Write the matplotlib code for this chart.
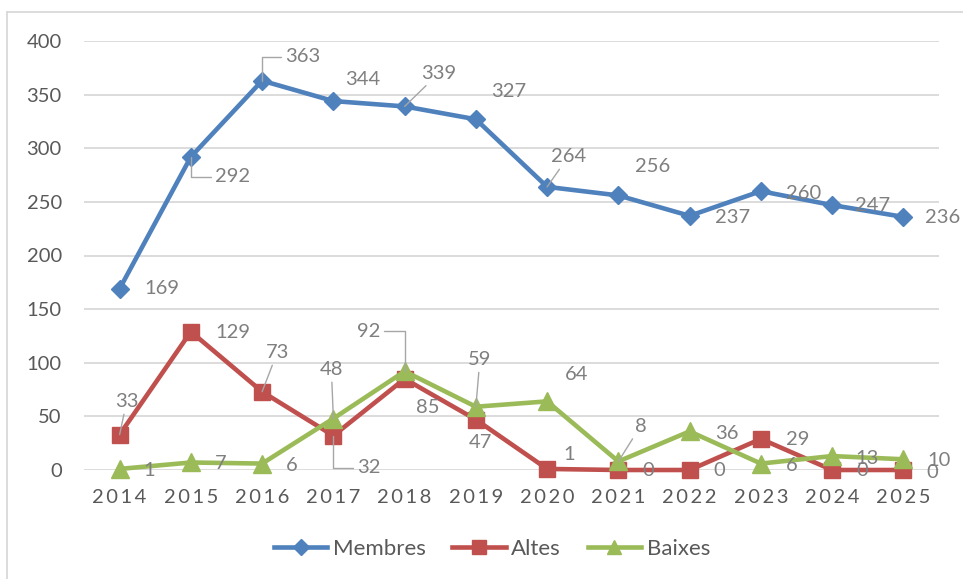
import matplotlib.pyplot as plt

plt.rcParams['font.family'] = ['Lato', 'DejaVu Sans']

years = ['2014', '2015', '2016', '2017', '2018', '2019', '2020', '2021', '2022', '2023', '2024', '2025']
membres = [169, 292, 363, 344, 339, 327, 264, 256, 237, 260, 247, 236]
altes = [33, 129, 73, 32, 85, 47, 1, 0, 0, 29, 0, 0]
baixes = [1, 7, 6, 48, 92, 59, 64, 8, 36, 6, 13, 10]

# label offsets in pixels (dx right, dy down) and leader style: None, 'line', 'elbow'
off_m = [(42, 0), (42, 20), (41, -24), (29, -22), (34, -33), (33, -28),
         (21, -30), (34, -29), (43, 2), (43, 2), (40, 0), (39, 1)]
lead_m = [None, 'elbow', 'elbow', None, 'line', None, 'line', None, None, None, None, None]
off_a = [(7, -33), (42, 1), (15, -39), (36, 32), (23, 29), (5, 23),
         (22, -14), (30, 1), (30, 1), (37, 1), (30, 1), (29, 2)]
lead_a = ['line', None, 'line', 'elbow', None, None, None, None, None, None, None, None]
off_b = [(30, 2), (30, 1), (30, 2), (-2, -49), (-36, -40), (4, -47),
         (29, -27), (22, -35), (37, 2), (31, 2), (35, 2), (36, 1)]
lead_b = [None, None, None, 'line', 'elbow', 'line', None, 'line', None, None, None, None]

fig = plt.figure(figsize=(9.63, 5.79), dpi=100)
ax = fig.add_axes([84 / 963, 109 / 579, 855 / 963, 429 / 579])

x = list(range(len(years)))
series = [
    (membres, 'Membres', '#4F81BD', 'D', 9.5, off_m, lead_m),
    (altes, 'Altes', '#C0504D', 's', 12, off_a, lead_a),
    (baixes, 'Baixes', '#9BBB59', '^', 12.5, off_b, lead_b),
]
for vals, name, col, mk, ms, offs, leads in series:
    ax.plot(x, vals, color=col, lw=3.3, marker=mk, ms=ms, label=name,
            clip_on=False, zorder=3)

for vals, name, col, mk, ms, offs, leads in series:
    for i, v in enumerate(vals):
        dx, dy = offs[i]
        ap = None
        if leads[i] == 'line':
            ap = dict(arrowstyle='-', color='#A6A6A6', lw=1, shrinkA=1, shrinkB=0)
        elif leads[i] == 'elbow':
            ap = dict(arrowstyle='-', color='#A6A6A6', lw=1, shrinkA=1, shrinkB=0,
                      connectionstyle='angle,angleA=0,angleB=90,rad=0')
        ax.annotate(str(v), (i, v), xytext=(dx * 0.72, -dy * 0.72),
                    textcoords='offset points', ha='center', va='center',
                    fontsize=14.5, color='#7F7F7F', arrowprops=ap, zorder=4,
                    annotation_clip=False)

ax.set_xlim(-0.5, 11.5)
ax.set_ylim(0, 400)
ax.set_yticks(range(0, 401, 50))
ax.set_xticks(x)
ax.set_xticklabels(['\u2009'.join(y) for y in years], fontsize=14.5, color='#595959')
ax.tick_params(axis='y', labelsize=14.5, labelcolor='#595959', length=0, pad=16)
ax.tick_params(axis='x', length=0, pad=14)
ax.grid(axis='y', color='#D9D9D9', lw=1.3)
ax.set_axisbelow(True)
for s in ax.spines.values():
    s.set_visible(False)

fig.add_artist(plt.Line2D([7 / 963, 7 / 963], [0, 1 - 12 / 579], color='#D9D9D9', lw=1.3))
fig.add_artist(plt.Line2D([7 / 963, 1], [1 - 12 / 579, 1 - 12 / 579], color='#D9D9D9', lw=1.3))

leg = fig.legend(loc='center', bbox_to_anchor=(492 / 963, 1 - 549 / 579), ncol=3,
                 frameon=False, fontsize=16, handlelength=2.4, columnspacing=1.2,
                 handletextpad=0.25, markerscale=0.85)
for t in leg.get_texts():
    t.set_color('#595959')

fig.savefig('out.png', dpi=100)
